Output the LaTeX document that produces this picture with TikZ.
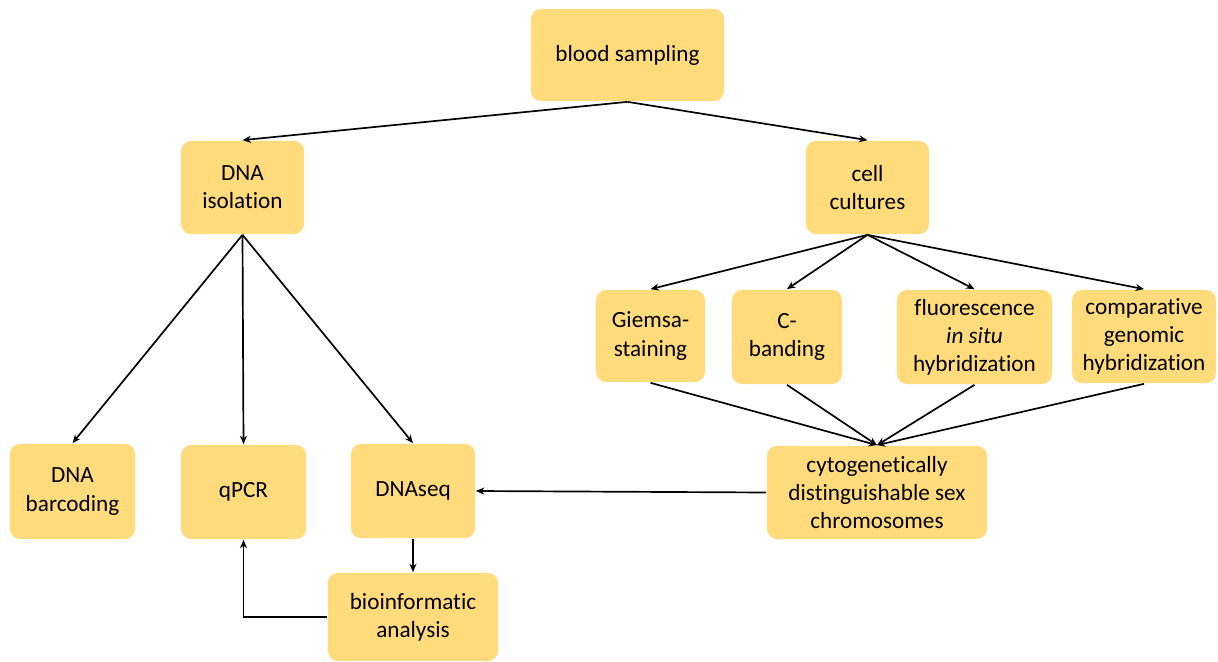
\documentclass[tikz,border=0pt]{standalone}
\usepackage{fontspec}
\setmainfont{Carlito}[RawFeature=-liga]
\usepackage{xcolor}
\usetikzlibrary{arrows.meta}
\definecolor{boxyellow}{HTML}{FFDB7C}

\begin{document}
\begin{tikzpicture}[x=0.025cm, y=-0.025cm,
    box/.style={rounded corners=0.25cm, fill=boxyellow, align=center,
        inner sep=0pt, font=\fontsize{16.5}{20}\selectfont},
    >={Stealth[length=6pt,width=5pt]}, line width=1.2pt]
    \useasboundingbox (0,0) rectangle (1218,662);

    \node (blood) at (627.5, 55) [box, minimum width=4.825cm, minimum height=2.3cm] {blood sampling};
    \node (dnaiso) at (242.5, 187.5) [box, minimum width=3.075cm, minimum height=2.325cm] {DNA\\isolation};
    \node (cells) at (867.5, 187.5) [box, minimum width=3.075cm, minimum height=2.325cm] {cell\\cultures};

    \node (giemsa) at (650.5, 336) [box, minimum width=2.725cm, minimum height=2.3cm] {Giemsa-\\staining};
    \node (cband) at (787, 337) [box, minimum width=2.75cm, minimum height=2.35cm] {C-\\banding};
    \node (fish) at (974.5, 337) [box, minimum width=3.875cm, minimum height=2.35cm] {fluorescence\\\textit{in situ}\\hybridization};
    \node (cgh) at (1144, 336.5) [box, minimum width=3.6cm, minimum height=2.325cm] {comparative\\genomic\\hybridization};

    \node (barcode) at (72.5, 491.5) [box, minimum width=3.125cm, minimum height=2.375cm] {DNA\\barcoding};
    \node (qpcr) at (243.5, 492) [box, minimum width=3.125cm, minimum height=2.35cm] {qPCR};
    \node (dnaseq) at (413, 491) [box, minimum width=3.1cm, minimum height=2.35cm] {DNAseq};
    \node (sexchr) at (877, 492.5) [box, minimum width=5.5cm, minimum height=2.325cm] {cytogenetically\\distinguishable sex\\chromosomes};
    \node (bioinf) at (413, 617) [box, minimum width=4.25cm, minimum height=2.2cm] {bioinformatic\\analysis};

    \draw[->] (blood.south) to (dnaiso.north);
    \draw[->] (blood.south) to (cells.north);

    \draw[->] (cells.south) to (giemsa.north);
    \draw[->] (cells.south) to (cband.north);
    \draw[->] (cells.south) to (fish.north);
    \draw[->] (cells.south) to (cgh.north);

    \draw[->] (giemsa.south) to (sexchr.north);
    \draw[->] (cband.south) to (sexchr.north);
    \draw[->] (fish.south) to (sexchr.north);
    \draw[->] (cgh.south) to (sexchr.north);

    \draw[->] (dnaiso.south) to (barcode.north);
    \draw[->] (dnaiso.south) to (qpcr.north);
    \draw[->] (dnaiso.south) to (dnaseq.north);

    \draw[->] (sexchr.west) to (dnaseq.east);
    \draw[->] (dnaseq.south) to (bioinf.north);
    \draw[->] (bioinf.west) -| (qpcr.south);
\end{tikzpicture}
\end{document}
